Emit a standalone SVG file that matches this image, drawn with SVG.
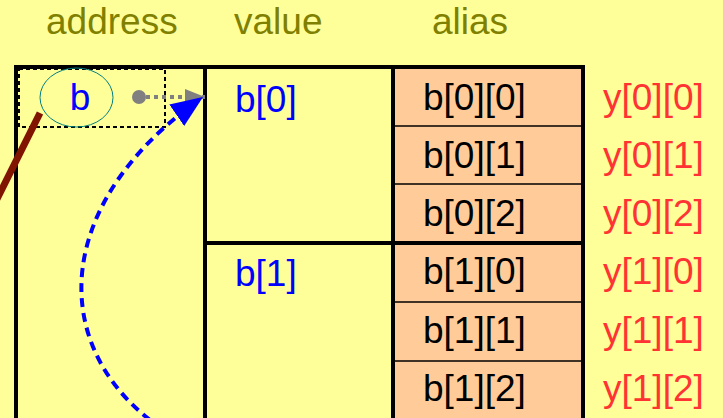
<svg xmlns="http://www.w3.org/2000/svg" width="723" height="418" viewBox="0 0 723 418">
<defs>
<style>
text{font-family:"Liberation Sans",Arial,sans-serif;font-size:37px}
.hdr{fill:#808000}
.blue{fill:#0000FF}
.blk{fill:#000}
.red{fill:#FF3333}
.thick{stroke:#000;stroke-width:4;fill:none}
.thin{stroke:#000;stroke-width:1.5;fill:none}
</style>
<marker id="ag" markerUnits="userSpaceOnUse" markerWidth="22" markerHeight="16" refX="20" refY="8" orient="auto"><path d="M0,0 L20,8 L0,16 Z" fill="#808080"/></marker>
<marker id="ab" markerUnits="userSpaceOnUse" markerWidth="34" markerHeight="26" refX="32" refY="13" orient="auto"><path d="M0,0 L32,13 L0,26 Z" fill="#0000FF"/></marker>
</defs>
<rect width="723" height="418" fill="#FFFF99"/>
<g id="headers">
<text class="hdr" x="46" y="34">address</text>
<text class="hdr" x="234" y="34">value</text>
<text class="hdr" x="432" y="34">alias</text>
</g>
<g id="alias-cells">
<rect x="393" y="67" width="190" height="360" fill="#FFCC99"/>
<line class="thin" x1="393" y1="126" x2="583" y2="126"/>
<line class="thin" x1="393" y1="184" x2="583" y2="184"/>
<line class="thin" x1="393" y1="302" x2="583" y2="302"/>
<line class="thin" x1="393" y1="361" x2="583" y2="361"/>
<text class="blk" x="423" y="110">b[0][0]</text>
<text class="blk" x="423" y="168">b[0][1]</text>
<text class="blk" x="423" y="226">b[0][2]</text>
<text class="blk" x="423" y="284">b[1][0]</text>
<text class="blk" x="423" y="343">b[1][1]</text>
<text class="blk" x="423" y="401">b[1][2]</text>
</g>
<g id="table">
<polyline class="thick" points="16,427 16,67 583,67 583,427"/>
<line class="thick" x1="205" y1="67" x2="205" y2="427"/>
<line class="thick" x1="393" y1="67" x2="393" y2="427"/>
<line class="thick" x1="205" y1="243" x2="583" y2="243"/>
</g>
<g id="values">
<text class="blue" x="235" y="112">b[0]</text>
<text class="blue" x="235" y="286">b[1]</text>
</g>
<g id="y-labels">
<text class="red" x="603" y="110">y[0][0]</text>
<text class="red" x="603" y="168">y[0][1]</text>
<text class="red" x="603" y="226">y[0][2]</text>
<text class="red" x="603" y="284">y[1][0]</text>
<text class="red" x="603" y="343">y[1][1]</text>
<text class="red" x="603" y="401">y[1][2]</text>
</g>
<g id="node-b">
<rect x="19" y="69" width="146" height="58" fill="none" stroke="#000" stroke-width="2" stroke-dasharray="4,3"/>
<ellipse cx="76.5" cy="97.5" rx="36.5" ry="29.5" fill="none" stroke="#008080" stroke-width="1"/>
<text class="blue" x="80" y="110" text-anchor="middle">b</text>
</g>
<g id="connectors">
<line x1="40" y1="113" x2="-6" y2="205" stroke="#801400" stroke-width="7"/>
<circle cx="139" cy="97" r="7" fill="#808080"/>
<line x1="146" y1="97" x2="205" y2="97" stroke="#808080" stroke-width="4" stroke-dasharray="4,4" marker-end="url(#ag)"/>
<path d="M150,420 C48,340 55,200 203,97" fill="none" stroke="#0000FF" stroke-width="4" stroke-dasharray="9,6" marker-end="url(#ab)"/>
</g>
</svg>
